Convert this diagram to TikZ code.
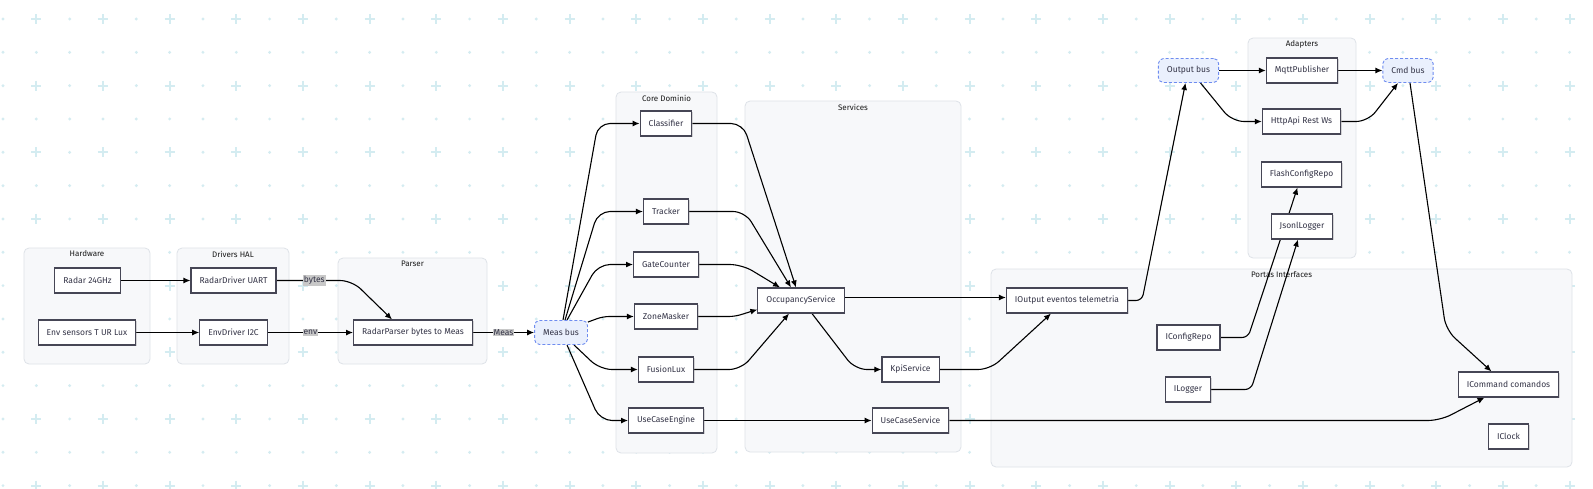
\documentclass[tikz,border=0pt]{standalone}
\usepackage{fontspec}
\setmainfont{Fira Sans}
\usepackage{tikz}
\usetikzlibrary{arrows.meta, calc, shadows}
\definecolor{rejilla}{RGB}{212,236,241}
\definecolor{grupofondo}{RGB}{247,248,250}
\definecolor{grupoborde}{RGB}{222,226,232}
\definecolor{borde}{RGB}{70,70,85}
\definecolor{texto}{RGB}{51,51,70}
\definecolor{busfondo}{RGB}{234,240,253}
\definecolor{busborde}{RGB}{110,140,240}
\definecolor{etiqfondo}{RGB}{200,200,200}
\pgfdeclarelayer{fondo}
\pgfdeclarelayer{aristas}
\pgfsetlayers{fondo,aristas,main}
\tikzset{
  comp/.style={rectangle, draw=borde, line width=1.1pt, fill=white, text=texto, font=\fontsize{8.5}{10}\selectfont, minimum height=25pt, inner xsep=8.5pt, drop shadow={shadow xshift=1.2pt, shadow yshift=-1.2pt, opacity=0.3}},
  bus/.style={rectangle, rounded corners=5pt, draw=busborde, densely dashed, line width=0.9pt, fill=busfondo, text=texto, font=\fontsize{8.5}{10}\selectfont, minimum height=24pt, inner xsep=8.5pt},
  grupobox/.style={draw=grupoborde, fill=grupofondo, rounded corners=5pt, line width=0.8pt},
  grupolabel/.style={font=\fontsize{8}{9}\selectfont, text=black!90, inner sep=1pt},
  etiq/.style={sharp corners, fill=etiqfondo, text=texto, font=\fontsize{8.5}{10}\selectfont, inner sep=1pt},
  arrow/.style={line width=1.1pt, ->, >={Latex[length=7pt,width=6pt]}, rounded corners=12pt}
}
% Macro para un grupo (subgrafo): nombre, x1, y1, x2, y2, titulo
\newcommand{\grupo}[6]{
    \draw[grupobox] (#2,#3) rectangle (#4,#5);
    \node[grupolabel] (#1) at ({(#2+#4)/2},#3+6) {#6};
}

\begin{document}
\begin{tikzpicture}[x=1pt, y=-1pt]
    \useasboundingbox (0,0) rectangle (1593,488);

    % -------------------------------------------------------------
    % FONDO: REJILLA Y GRUPOS
    % -------------------------------------------------------------
    \begin{pgfonlayer}{fondo}
        \fill[white] (0,0) rectangle (1593,488);
        \foreach \i in {0,...,47} {
            \foreach \j in {0,...,14} {
                \pgfmathsetmacro\gx{3+33.33*\i}
                \pgfmathsetmacro\gy{19+33.33*\j}
                \ifodd\i\relax
                    \ifodd\j\relax
                        \fill[rejilla] (\gx,\gy) circle (1.6pt);
                    \else
                        \draw[rejilla, line width=2pt] (\gx-5,\gy) -- (\gx+5,\gy) (\gx,\gy-5) -- (\gx,\gy+5);
                    \fi
                \else
                    \fill[rejilla] (\gx,\gy) circle (1.6pt);
                \fi
            }
        }

        \grupo{gHard}{24}{248}{150}{364}{Hardware}
        \grupo{gDrv}{177}{248}{289}{364}{Drivers HAL}
        \grupo{gParser}{338}{258}{487}{364}{Parser}
        \grupo{gCore}{616}{92}{717}{453}{Core Dominio}
        \grupo{gServ}{745}{101}{961}{452}{Services}
        \grupo{gPortas}{991}{269}{1572}{467}{Portas Interfaces}
        \grupo{gAdapt}{1248}{38}{1356}{258}{Adapters}
    \end{pgfonlayer}

    % -------------------------------------------------------------
    % COMPONENTES
    % -------------------------------------------------------------

    % 1. Hardware y drivers
    \node[comp] (radar) at (87.5,280.5) {Radar 24GHz};
    \node[comp] (envsens) at (87,332.5) {Env sensors T UR Lux};
    \node[comp] (radrv) at (233.5,280.5) {RadarDriver UART};
    \node[comp] (envdrv) at (233.5,332.5) {EnvDriver I2C};

    % 2. Parser y bus de medidas
    \node[comp] (parser) at (413,332.5) {RadarParser bytes to Meas};
    \node[bus] (measbus) at (561,332.5) {Meas bus};

    % 3. Core dominio
    \node[comp] (classif) at (666,123.5) {Classifier};
    \node[comp] (tracker) at (666,211.5) {Tracker};
    \node[comp] (gate) at (666,264.5) {GateCounter};
    \node[comp] (zone) at (666,316.5) {ZoneMasker};
    \node[comp] (fusion) at (666,369.5) {FusionLux};
    \node[comp] (usecase) at (666,420.5) {UseCaseEngine};

    % 4. Servicios
    \node[comp] (occup) at (801,300.5) {OccupancyService};
    \node[comp] (kpi) at (910.5,369.5) {KpiService};
    \node[comp] (ucserv) at (910.5,420.5) {UseCaseService};

    % 5. Puertos
    \node[comp] (ioutput) at (1067,300.5) {IOutput eventos telemetria};
    \node[comp] (iconfig) at (1188.5,337.5) {IConfigRepo};
    \node[comp] (ilogger) at (1188,389.5) {ILogger};
    \node[comp] (icommand) at (1508.5,384.5) {ICommand comandos};
    \node[comp] (iclock) at (1508.5,436.5) {IClock};

    % 6. Adaptadores y buses
    \node[bus] (outbus) at (1188.5,70.5) {Output bus};
    \node[comp] (mqtt) at (1302,70.5) {MqttPublisher};
    \node[bus] (cmdbus) at (1408,70.5) {Cmd bus};
    \node[comp] (http) at (1301.5,121.5) {HttpApi Rest Ws};
    \node[comp] (flash) at (1301.5,174.5) {FlashConfigRepo};
    \node[comp] (jsonl) at (1302,226.5) {JsonlLogger};

    % -------------------------------------------------------------
    % CONEXIONES
    % -------------------------------------------------------------
    \begin{pgfonlayer}{aristas}
        % Entrada de datos
        \draw[arrow] (radar) -- (radrv);
        \draw[arrow] (envsens) -- (envdrv);
        \draw[arrow] (radrv.east) -- node[etiq]{bytes} (352,280.5) -- ([xshift=-21pt]parser.north);
        \draw[arrow] (envdrv) -- node[etiq]{env} (parser);
        \draw[arrow] (parser) -- node[etiq]{Meas} (measbus);

        % Bus de medidas hacia el core
        \draw[arrow] ([xshift=2pt]measbus.north) -- (598,123.5) -- (classif.west);
        \draw[arrow] ([xshift=4pt]measbus.north) -- (598,211.5) -- (tracker.west);
        \draw[arrow] ([xshift=6pt]measbus.north) -- (598,264.5) -- (gate.west);
        \draw[arrow, rounded corners=6pt] ([yshift=-2pt]measbus.north east) -- (603,316.5) -- (zone.west);
        \draw[arrow] ([xshift=13pt]measbus.south) -- (600,369.5) -- (fusion.west);
        \draw[arrow] ([xshift=6pt]measbus.south) -- (600,420.5) -- (usecase.west);

        % Core hacia servicios
        \draw[arrow] (classif.east) -- (743,123.5) -- ([xshift=-5pt]occup.north);
        \draw[arrow] (tracker.east) -- (745,211.5) -- ([xshift=-10pt]occup.north);
        \draw[arrow] (gate.east) -- (742,264.5) -- ([xshift=-21pt]occup.north);
        \draw[arrow, rounded corners=6pt] (zone.east) -- (735,316.5) -- ([yshift=-9pt]occup.west);
        \draw[arrow] (fusion.east) -- (741,369.5) -- ([xshift=-12pt]occup.south);
        \draw[arrow] (usecase) -- (ucserv);

        % Servicios hacia puertos
        \draw[arrow] ([xshift=11pt]occup.south) -- (855,369.5) -- (kpi.west);
        \draw[arrow] ([yshift=3pt]occup.east) -- ([yshift=3pt]ioutput.west);
        \draw[arrow] (kpi.east) -- (990,369.5) -- ([xshift=-16pt]ioutput.south);
        \draw[arrow] (ucserv.east) -- (1440,420.5) -- ([xshift=-24pt]icommand.south);

        % Puertos y adaptadores
        \draw[arrow, rounded corners=6pt] (ioutput.east) -- (1142,300.5) -- ([xshift=-3pt]outbus.south);
        \draw[arrow] (outbus) -- (mqtt);
        \draw[arrow] ([xshift=12pt]outbus.south) -- (1232,121.5) -- (http.west);
        \draw[arrow] (mqtt) -- (cmdbus);
        \draw[arrow] (http.east) -- (1368,121.5) -- ([xshift=-10pt]cmdbus.south);
        \draw[arrow] ([xshift=2pt]cmdbus.south) -- (1446,330) -- ([xshift=-17pt]icommand.north);
        \draw[arrow, rounded corners=6pt] (iconfig.east) -- (1248,337.5) -- ([xshift=-4pt]flash.south);
        \draw[arrow, rounded corners=6pt] (ilogger.east) -- (1251,389.5) -- ([xshift=-4pt]jsonl.south);
    \end{pgfonlayer}

\end{tikzpicture}
\end{document}
